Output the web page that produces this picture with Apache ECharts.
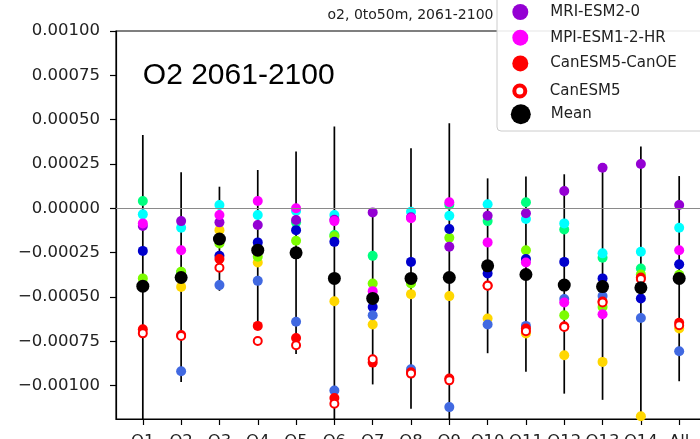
<!DOCTYPE html>
<html>
<head>
<meta charset="utf-8">
<script src="https://cdn.jsdelivr.net/npm/echarts@6/dist/echarts.min.js"></script>
<style>
  html, body { margin: 0; padding: 0; background: #fff; }
  #chart { width: 700px; height: 439px; }
</style>
</head>
<body>
<div id="chart"></div>
<script>
// Regions along the x axis
const regions = ['O1', 'O2', 'O3', 'O4', 'O5', 'O6', 'O7', 'O8', 'O9', 'O10', 'O11', 'O12', 'O13', 'O14', 'All'];

// Y axis tick values
const yTicks = [0.001, 0.00075, 0.0005, 0.00025, 0, -0.00025, -0.0005, -0.00075, -0.001];

// O2 change per model, 0-50 m, 2061-2100
const accessEsm = [0.41e-4, -3.6e-4, -1.7e-4, -2.4e-4, -0.79e-4, -1.5e-4, -2.68e-4, -4.0e-4, 0.2e-4, -0.72e-4, 0.34e-4, -1.19e-4, -2.79e-4, -3.39e-4, -3.9e-4];
const gfdlEsm = [-4.4e-4, -4.43e-4, -1.23e-4, -3.05e-4, -2.5e-4, -5.24e-4, -6.55e-4, -4.84e-4, -4.95e-4, -6.21e-4, -7.06e-4, -8.29e-4, -8.66e-4, -11.72e-4, -6.78e-4];
const ipslCm = [-3.95e-4, -3.58e-4, -1.98e-4, -2.73e-4, -1.83e-4, -1.58e-4, -4.24e-4, -4.24e-4, -1.66e-4, -3.3e-4, -2.36e-4, -6.03e-4, -5.56e-4, -3.73e-4, -3.75e-4];
const cesm2 = [-0.34e-4, -1.1e-4, 0.19e-4, -0.38e-4, -0.15e-4, -0.38e-4, -5.0e-4, -0.19e-4, -0.42e-4, 0.23e-4, -0.6e-4, -0.85e-4, -2.54e-4, -2.45e-4, -1.1e-4];
const cnrmEsm = [-2.4e-4, -3.9e-4, -2.68e-4, -1.92e-4, -1.23e-4, -1.89e-4, -5.56e-4, -3.02e-4, -1.17e-4, -3.67e-4, -2.86e-4, -3.02e-4, -3.95e-4, -5.08e-4, -3.16e-4];
const ukesm = [-12.6e-4, -9.19e-4, -4.33e-4, -4.09e-4, -6.4e-4, -10.27e-4, -6.03e-4, -9.08e-4, -11.21e-4, -6.55e-4, -6.63e-4, -5.12e-4, -4.95e-4, -6.18e-4, -8.06e-4];
const mriEsm = [-1.0e-4, -0.72e-4, -0.79e-4, -0.94e-4, -0.66e-4, -0.65e-4, -0.23e-4, -0.5e-4, -2.17e-4, -0.42e-4, -0.28e-4, 0.98e-4, 2.29e-4, 2.5e-4, 0.19e-4];
const mpiEsm = [-0.85e-4, -2.36e-4, -0.38e-4, 0.41e-4, 0.0, -0.72e-4, -4.67e-4, -0.56e-4, 0.34e-4, -1.92e-4, -3.05e-4, -5.31e-4, -5.97e-4, -4.45e-4, -2.36e-4];
const canEsmCanOE = [-6.82e-4, -7.15e-4, -2.86e-4, -6.63e-4, -7.31e-4, -10.7e-4, -8.7e-4, -9.25e-4, -9.6e-4, -4.35e-4, -6.78e-4, -6.65e-4, -5.25e-4, -3.9e-4, -6.45e-4];
const canEsm = [-7.05e-4, -7.2e-4, -3.35e-4, -7.48e-4, -7.72e-4, -11.02e-4, -8.51e-4, -9.32e-4, -9.7e-4, -4.37e-4, -6.93e-4, -6.69e-4, -5.31e-4, -3.99e-4, -6.59e-4];

// Multi-model mean and its spread (bar ends)
const meanValues = [-4.39e-4, -3.9e-4, -1.73e-4, -2.36e-4, -2.51e-4, -3.95e-4, -5.08e-4, -3.95e-4, -3.9e-4, -3.24e-4, -3.73e-4, -4.33e-4, -4.41e-4, -4.48e-4, -3.95e-4];
const spreadTop = [4.14e-4, 2.03e-4, 1.22e-4, 2.16e-4, 3.2e-4, 4.61e-4, -0.23e-4, 3.39e-4, 4.8e-4, 1.69e-4, 1.79e-4, 1.92e-4, 2.29e-4, 3.48e-4, 1.82e-4];
const spreadBottom = [-12.9e-4, -9.8e-4, -4.65e-4, -6.75e-4, -8.22e-4, -12.5e-4, -9.93e-4, -11.3e-4, -12.6e-4, -8.17e-4, -9.22e-4, -10.45e-4, -10.8e-4, -12.4e-4, -9.75e-4];

const models = [
  { name: 'ACCESS-ESM1-5', values: accessEsm, color: '#00ff7f' },
  { name: 'GFDL-ESM4', values: gfdlEsm, color: '#ffd700' },
  { name: 'IPSL-CM6A-LR', values: ipslCm, color: '#7cfc00' },
  { name: 'CESM2', values: cesm2, color: '#00ffff' },
  { name: 'CNRM-ESM2-1', values: cnrmEsm, color: '#0000cd' },
  { name: 'UKESM1-0-LL', values: ukesm, color: '#4169e1' },
  { name: 'MRI-ESM2-0', values: mriEsm, color: '#9400d3' },
  { name: 'MPI-ESM1-2-HR', values: mpiEsm, color: '#ff00ff' },
  { name: 'CanESM5-CanOE', values: canEsmCanOE, color: '#ff0000' }
];

const FONT = '"DejaVu Sans", sans-serif';
const positions = regions.map((r, i) => i + 1);
const asPoints = vals => vals.map((v, i) => [i + 1, v]);

const series = [];

// Spread bars, drawn underneath the markers, with the zero reference line
series.push({
  type: 'custom',
  name: 'spread',
  clip: true,
  z: 1,
  silent: true,
  data: regions.map((r, i) => [i + 1, spreadBottom[i], spreadTop[i]]),
  encode: { x: 0, y: [1, 2] },
  renderItem: function (params, api) {
    const a = api.coord([api.value(0), api.value(1)]);
    const b = api.coord([api.value(0), api.value(2)]);
    return {
      type: 'line',
      shape: { x1: a[0], y1: a[1], x2: b[0], y2: b[1] },
      style: { stroke: '#000', lineWidth: 1.7 }
    };
  },
  markLine: {
    silent: true,
    symbol: 'none',
    label: { show: false },
    lineStyle: { color: '#8a8a8a', width: 1, type: 'solid' },
    data: [{ yAxis: 0 }]
  }
});

models.forEach(m => {
  series.push({
    type: 'scatter',
    name: m.name,
    data: asPoints(m.values),
    symbol: 'circle',
    symbolSize: 10,
    itemStyle: { color: m.color, opacity: 1 },
    z: 3,
    silent: true
  });
});

series.push({
  type: 'scatter',
  name: 'CanESM5',
  data: asPoints(canEsm),
  symbol: 'circle',
  symbolSize: 8,
  itemStyle: { color: '#ffffff', borderColor: '#ff0000', borderWidth: 2, opacity: 1 },
  z: 3,
  silent: true
});

series.push({
  type: 'scatter',
  name: 'Mean',
  data: asPoints(meanValues),
  symbol: 'circle',
  symbolSize: 13,
  itemStyle: { color: '#000000', opacity: 1 },
  z: 4,
  silent: true
});

const minusFmt = v => (v < 0 ? '\u2212' : '') + Math.abs(v).toFixed(5);

const legendText = { fontSize: 15, fontFamily: FONT, color: '#222' };
const LEGEND_LEFT = 512.3;

const option = {
  animation: false,
  backgroundColor: '#ffffff',
  grid: {
    left: 116, top: 31, width: 590, height: 388,
    containLabel: false,
    outerBoundsMode: 'none',
    show: true, borderColor: '#000', borderWidth: 1.2, backgroundColor: 'transparent'
  },
  xAxis: {
    type: 'value',
    min: 0.3,
    max: 15.7,
    axisLine: { show: true, onZero: false, lineStyle: { color: '#000', width: 1.2 } },
    axisTick: { show: true, length: 6, customValues: positions, lineStyle: { color: '#000', width: 1.2 } },
    axisLabel: {
      customValues: positions,
      formatter: v => regions[Math.round(v) - 1],
      fontSize: 16.5, fontFamily: FONT, color: '#222', margin: 14
    },
    splitLine: { show: false }
  },
  yAxis: {
    type: 'value',
    min: -0.001188,
    max: 0.001,
    axisLine: { show: true, onZero: false, lineStyle: { color: '#000', width: 1.2 } },
    axisTick: { show: true, length: 6, customValues: yTicks, lineStyle: { color: '#000', width: 1.2 } },
    axisLabel: {
      customValues: yTicks,
      formatter: minusFmt,
      fontSize: 16.5, fontFamily: FONT, color: '#222', margin: 16
    },
    splitLine: { show: false }
  },
  legend: [
    {
      orient: 'vertical', left: LEGEND_LEFT, top: 4, padding: 0,
      itemWidth: 50, itemHeight: 16, itemGap: 9.7,
      selectedMode: false, z: 6,
      textStyle: Object.assign({ lineHeight: 16 }, legendText),
      data: ['MRI-ESM2-0', 'MPI-ESM1-2-HR', 'CanESM5-CanOE']
    },
    {
      orient: 'vertical', left: LEGEND_LEFT, top: 83.5, padding: 0,
      itemWidth: 50, itemHeight: 11,
      selectedMode: false, z: 6,
      textStyle: Object.assign({ lineHeight: 11 }, legendText),
      data: [{ name: 'CanESM5', itemStyle: { color: '#ffffff', borderColor: '#ff0000', borderWidth: 4 } }]
    },
    {
      orient: 'vertical', left: LEGEND_LEFT - 1.5, top: 104.3, padding: 0,
      itemWidth: 50, itemHeight: 20,
      selectedMode: false, z: 6,
      textStyle: Object.assign({ lineHeight: 20 }, legendText),
      data: ['Mean']
    }
  ],
  graphic: [
    {
      type: 'rect', z: 5, silent: true,
      shape: { x: 497, y: -10, width: 230, height: 141, r: 4 },
      style: { fill: 'rgba(255,255,255,0.9)', stroke: '#cccccc', lineWidth: 1 }
    },
    {
      type: 'text', z: 6, silent: true,
      style: {
        text: 'o2, 0to50m, 2061-2100', x: 493.5, y: 15.8,
        align: 'right', verticalAlign: 'middle',
        font: '14px "DejaVu Sans"', fill: '#222'
      }
    },
    {
      type: 'text', z: 6, silent: true,
      style: {
        text: 'O2 2061-2100', x: 142.8, y: 75.5,
        align: 'left', verticalAlign: 'middle',
        font: '30px "Liberation Sans"', fill: '#000'
      }
    }
  ],
  series: series
};

const chart = echarts.init(document.getElementById('chart'), null, { renderer: 'canvas', devicePixelRatio: 1 });
chart.setOption(option);
</script>
</body>
</html>
